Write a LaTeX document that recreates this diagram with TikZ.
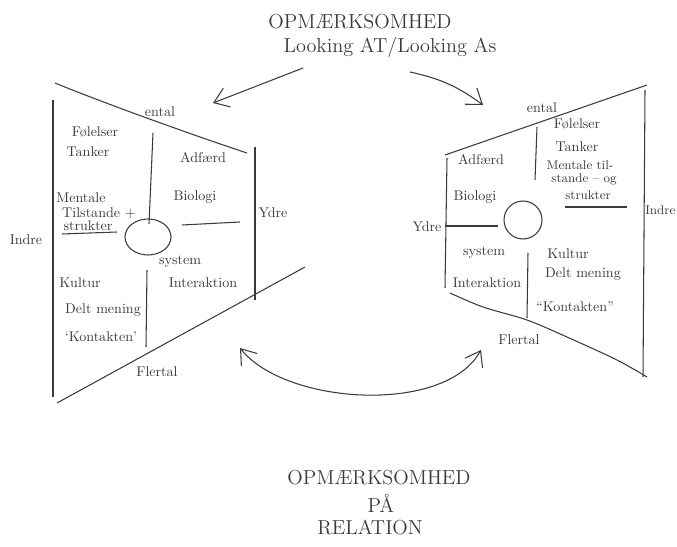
\documentclass[tikz,border=0pt]{standalone}
\usepackage{fontspec}
\usetikzlibrary{arrows.meta}
\definecolor{ink}{HTML}{3A3A3A}
\tikzstyle{pen} = [draw=ink, line width=0.75pt]
\tikzstyle{word} = [text=ink, inner sep=1pt]
\tikzstyle{tight} = [word, font=\small]
\tikzstyle{title} = [text=ink, font=\Large, inner sep=1pt]
\tikzstyle{arrow} = [pen, ->, >={Straight Barb[length=3.5mm,width=5mm]}]
\newcommand{\px}{0.025cm}

\begin{document}
\begin{tikzpicture}[x=\px, y=-\px]
  \useasboundingbox (0,0) rectangle (677,546);

  % Top title
  \node [title] (topTitle) at (360,22) {OPMÆRKSOMHED};
  \node [title] (topSub)   at (390,47) {Looking AT/Looking As};

  % Arrows from the title
  \coordinate (lArrowTail) at (303,68);
  \coordinate (lArrowHead) at (213,103);
  \draw [arrow] (lArrowTail) -- (lArrowHead);

  \coordinate (rArrowTail) at (410,72);
  \coordinate (rArrowHead) at (483,105);
  \draw [arrow] (rArrowTail) to[bend left=12] (rArrowHead);



  % Left panel frame
  \draw [pen] plot [smooth] coordinates {(55,83) (80,93) (133,113) (200,137) (247,153)};
  \draw [pen] (53,100) -- (53,397);
  \draw [pen] (57,403) -- (305,267);
  \draw [pen] (255,147) -- (255,300);

  % Left panel dividers
  \draw [pen] (153,133) -- (149,224);
  \draw [pen] (147,270) -- (146,347);
  \draw [pen] (182,225) -- (240,222);
  \draw [pen] (62,234) -- (117,232);
  \draw [pen] (148,237) ellipse [x radius=23, y radius=18];

  % Left panel labels
  \node [word] (lEntal)   at (160,112) {ental};
  \node [word] (lFeel)    at (95,132)  {Følelser};
  \node [word] (lThink)   at (88,152)  {Tanker};
  \node [word] (lMental)  at (81,198)  {Mentale};
  \node [word] (lState)   at (99,213)  {Tilstande +};
  \node [word] (lStruct)  at (88,226)  {strukter};
  \node [word] (lAct)     at (203,158) {Adfærd};
  \node [word] (lBio)     at (195,197) {Biologi};
  \node [word] (lOuter)   at (273,213) {Ydre};
  \node [word] (lInner)   at (26,240)  {Indre};
  \node [word] (lSystem)  at (180,262) {system};
  \node [word] (lInter)   at (203,283) {Interaktion};
  \node [word] (lCulture) at (80,283)  {Kultur};
  \node [word] (lMeaning) at (103,310) {Delt mening};
  \node [word] (lContext) at (101,337) {`Kontakten'};
  \node [word] (lPlural)  at (157,372) {Flertal};



  % Right panel frame
  \draw [pen] (445,155) -- (647,85);
  \draw [pen] (645,90) -- (643,377);
  \draw [pen] plot [smooth] coordinates {(450,293) (483,307) (527,320) (567,337) (617,360) (647,377)};
  \draw [pen] (447,158) -- (445,288);

  % Right panel dividers
  \draw [pen] (537,127) -- (535,180);
  \draw [pen] (528,253) -- (527,318);
  \draw [pen] (445,226) -- (498,226);
  \draw [pen] (565,207) -- (627,207);
  \draw [pen] (523,220) circle [radius=19];

  % Right panel labels
  \node [word]  (rEntal)   at (542,108) {ental};
  \node [word]  (rFeel)    at (577,124) {Følelser};
  \node [word]  (rThink)   at (577,147) {Tanker};
  \node [tight] (rMental)  at (580,165) {Mentale til-};
  \node [tight] (rState)   at (584,179) {stande -- og};
  \node [tight] (rStruct)  at (588,195) {strukter};
  \node [word]  (rAct)     at (481,160) {Adfærd};
  \node [word]  (rBio)     at (475,197) {Biologi};
  \node [word]  (rOuter)   at (427,227) {Ydre};
  \node [tight, anchor=east] (rInner) at (677,210) {Indre};
  \node [word]  (rSystem)  at (484,253) {system};
  \node [word]  (rInter)   at (487,283) {Interaktion};
  \node [word]  (rCulture) at (568,254) {Kultur};
  \node [word]  (rMeaning) at (583,274) {Delt mening};
  \node [word]  (rContext) at (575,307) {``Kontakten''};
  \node [word]  (rPlural)  at (519,340) {Flertal};



  % Relation arrow
  \coordinate (relLeft)  at (240,348);
  \coordinate (relRight) at (481,350);
  \draw [arrow, <->] (relLeft) .. controls (285,405) and (445,415) .. (relRight);

  % Bottom title
  \node [title] (botTitle) at (379,478) {OPMÆRKSOMHED};
  \node [title] (botOn)    at (381,503) {PÅ};
  \node [title] (botRel)   at (370,527) {RELATION};

\end{tikzpicture}
\end{document}
